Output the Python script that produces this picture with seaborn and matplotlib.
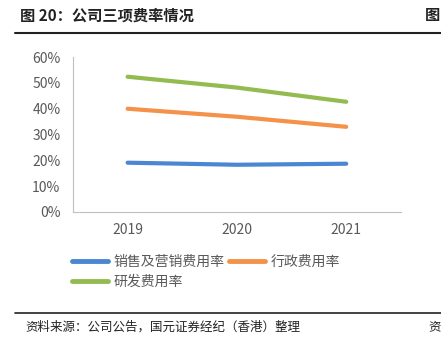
import matplotlib
matplotlib.use("Agg")
import matplotlib.pyplot as plt
import seaborn as sns
import pandas as pd
from matplotlib.lines import Line2D

years = ["2019", "2020", "2021"]
series_names = ["销售及营销费用率", "行政费用率", "研发费用率"]
sales_rate = [19.1, 18.3, 18.7]
admin_rate = [40.0, 36.9, 33.0]
rd_rate = [52.4, 48.2, 42.7]
y_ticks = [0, 10, 20, 30, 40, 50, 60]
colors = ["#4a86d2", "#f5924a", "#93bb4f"]

sns.set_theme(style="white")
plt.rcParams['font.family'] = ['Noto Sans CJK SC', 'DejaVu Sans']

rows = []
for name, vals in zip(series_names, [sales_rate, admin_rate, rd_rate]):
    for y, v in zip(years, vals):
        rows.append({"year": y, "series": name, "value": v})
df = pd.DataFrame(rows)

fig = plt.figure(figsize=(4.41, 3.38), dpi=100)
ax = fig.add_axes([0.1655, 0.3728, 0.909 - 0.1655, 0.831 - 0.3728])

sns.lineplot(data=df, x="year", y="value", hue="series", palette=colors,
             linewidth=3, ax=ax, legend=False, sort=False)

ax.set_xlim(-0.5, 2.5)
ax.set_ylim(0, 60)
ax.set_yticks(y_ticks)
ax.set_yticklabels([f"{t}%" for t in y_ticks], color="#595959", fontsize=10)
ax.set_xticks([0, 1, 2])
ax.set_xticklabels(years, color="#595959", fontsize=10)
ax.set_xticks([-0.5, 0.5, 1.5, 2.5], minor=True)
ax.tick_params(axis="x", which="major", length=0, pad=8)
ax.tick_params(axis="x", which="minor", length=5, color="#bfbfbf", direction="out", width=0.8)
ax.tick_params(axis="y", length=5, color="#bfbfbf", direction="out", width=0.8, pad=4)
ax.set_xlabel("")
ax.set_ylabel("")
for s in ["top", "right"]:
    ax.spines[s].set_visible(False)
for s in ["left", "bottom"]:
    ax.spines[s].set_color("#bfbfbf")
    ax.spines[s].set_linewidth(0.8)
ax.grid(False)

# order so that ncol=2 gives row1: sales, admin; row2: R&D
order = [0, 2, 1]
handles = [Line2D([0], [0], color=colors[i], linewidth=3.5) for i in order]
labels = [series_names[i] for i in order]
fig.legend(handles, labels, loc="upper left", bbox_to_anchor=(0.135, 0.283),
           bbox_transform=fig.transFigure, ncol=2, frameon=False,
           fontsize=10, handlelength=2.6, handletextpad=0.4, columnspacing=0.3,
           labelspacing=0.45, labelcolor="#595959")

fig.text(0.045, 0.955, "图 20：公司三项费率情况", fontsize=11, fontweight="bold",
         color="#222222", va="center", ha="left")
fig.text(0.999, 0.955, "图", fontsize=11, fontweight="bold", color="#222222",
         va="center", ha="right")
fig.add_artist(Line2D([0.034, 1.0], [0.903, 0.903], transform=fig.transFigure,
                      color="#222222", linewidth=1.5))
fig.add_artist(Line2D([0.034, 1.0], [0.074, 0.074], transform=fig.transFigure,
                      color="#222222", linewidth=1.2))
fig.text(0.058, 0.032, "资料来源：公司公告，国元证券经纪（香港）整理", fontsize=9,
         style="italic", color="#222222", va="center", ha="left")
fig.text(0.999, 0.032, "资", fontsize=9, style="italic", color="#222222",
         va="center", ha="right")

fig.savefig("out.png", dpi=100)
